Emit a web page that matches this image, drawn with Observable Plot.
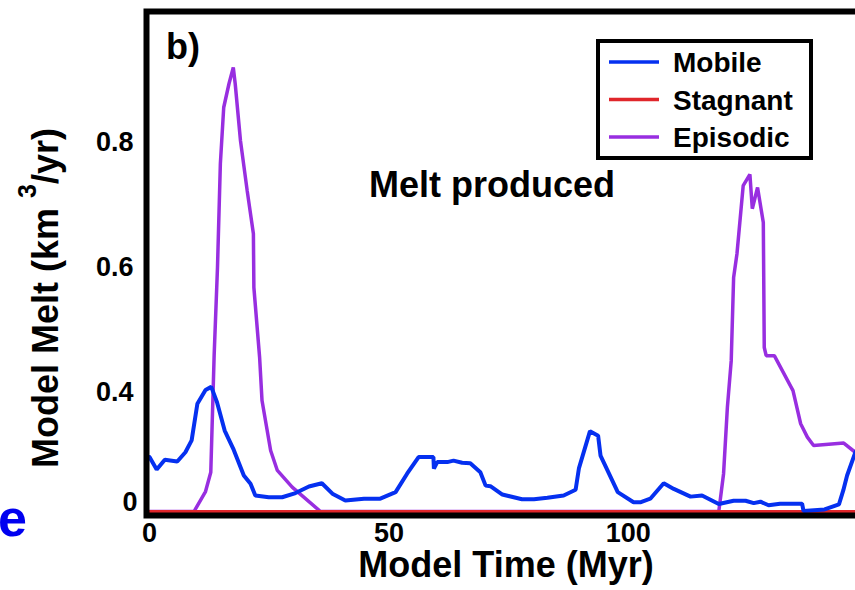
<!DOCTYPE html>
<html><head><meta charset="utf-8">
<script src="https://cdn.jsdelivr.net/npm/d3@7"></script>
<script src="https://cdn.jsdelivr.net/npm/@observablehq/plot@0.6"></script>
<style>
html,body{margin:0;padding:0;overflow:hidden;background:#fff;}
#chart{width:855px;height:590px;overflow:hidden;position:relative;}
#chart svg{max-width:none !important;display:block;}
</style></head><body><div id="chart"></div>
<script>
// ---- data ----
const seriesNames = ["Mobile", "Stagnant", "Episodic"];
const seriesColors = ["#0530f0", "#e0262b", "#982ee0"];

const mobileTime = [0, 1.5, 3.2, 5.8, 7.5, 8.8, 10.0, 11.7, 12.9, 14.1, 15.7, 17.6, 19.7, 21.1, 22.1, 24.9, 27.7, 30.5, 33.3, 36.0, 38.2, 40.9, 44.8, 48.2, 51.4, 53.8, 56.2, 59.3, 59.4, 60.1, 62.2, 63.5, 65.3, 67.0, 69.1, 70.2, 71.2, 73.7, 77.8, 80.3, 83.1, 86.5, 89.0, 89.7, 92.0, 93.7, 94.2, 97.8, 101.1, 102.5, 104.6, 107.4, 109.5, 113.0, 115.4, 118.9, 122.0, 124.5, 126.2, 127.6, 129.3, 131.7, 136.3, 136.6, 141.0, 144.0, 144.9, 145.7, 147.4, 149.0];
const mobileMelt = [0.183, 0.141, 0.174, 0.168, 0.199, 0.239, 0.362, 0.404, 0.409, 0.367, 0.272, 0.207, 0.121, 0.093, 0.054, 0.048, 0.048, 0.062, 0.084, 0.095, 0.060, 0.037, 0.043, 0.043, 0.065, 0.127, 0.183, 0.183, 0.144, 0.166, 0.166, 0.171, 0.164, 0.162, 0.132, 0.087, 0.085, 0.057, 0.041, 0.041, 0.046, 0.054, 0.073, 0.146, 0.270, 0.255, 0.188, 0.065, 0.031, 0.031, 0.043, 0.095, 0.076, 0.050, 0.054, 0.025, 0.036, 0.036, 0.028, 0.033, 0.021, 0.026, 0.026, 0.002, 0.007, 0.024, 0.071, 0.121, 0.198, 0.240];

const stagnantTime = [0, 150];
const stagnantMelt = [0, 0];

const episodicTime = [0, 9.3, 11.7, 12.8, 13.5, 14.2, 14.8, 15.5, 16.6, 17.5, 17.9, 19.0, 20.4, 21.7, 21.8, 23.0, 23.5, 25.3, 26.7, 29.8, 35.7, 118.9, 119.9, 120.7, 121.5, 122.0, 122.7, 124.0, 125.4, 125.9, 127.0, 128.2, 128.4, 128.8, 130.5, 134.4, 136.0, 137.4, 138.7, 145.0, 147.4, 149.0];
const episodicMelt = [0, 0, 0.067, 0.132, 0.459, 0.600, 0.766, 0.856, 0.894, 0.920, 0.894, 0.803, 0.723, 0.654, 0.568, 0.456, 0.373, 0.205, 0.138, 0.082, 0, 0, 0.127, 0.351, 0.451, 0.584, 0.622, 0.731, 0.749, 0.694, 0.728, 0.672, 0.472, 0.459, 0.459, 0.403, 0.295, 0.250, 0.222, 0.230, 0.199, 0.185];

const xTicks = [0, 50, 100];
const yTicks = [0.4, 0.6, 0.8];
const yZeroTick = [0];
const xLabel = "Model Time (Myr)";
const yLabelMain = "Model Melt (km ";
const yLabelSup = "3";
const yLabelTail = "/yr)";
const annotation = "Melt produced";
const panelLabel = "b)";
const strayLetter = "e";

// ---- build ----
const rows = (t, v, s) => t.map((d, i) => ({time: d, melt: v[i], series: s}));
const mobile = rows(mobileTime, mobileMelt, seriesNames[0]);
const stagnant = rows(stagnantTime, stagnantMelt, seriesNames[1]);
const episodic = rows(episodicTime, episodicMelt, seriesNames[2]);

// the original axis is compressed below 0.4 (its "0" label sits just above the frame)
const squeeze = v => (v < 0.4 ? 0.4 - (0.4 - v) * 0.476 : v);

const font = "'Liberation Sans', Arial, Helvetica, sans-serif";

const plot = Plot.plot({
  width: 875, height: 590,
  marginLeft: 146, marginRight: 15, marginTop: 11, marginBottom: 75,
  style: {fontFamily: font, fontWeight: "bold", background: "white", color: "black"},
  x: {domain: [0, 148.5], range: [149, 860]},
  y: {transform: squeeze, domain: [squeeze(0), 0.8], range: [511, 142]},
  marks: [
    Plot.line(episodic, {x: "time", y: "melt", stroke: seriesColors[2], strokeWidth: 3.5, strokeLinejoin: "miter"}),
    Plot.line(stagnant, {x: "time", y: "melt", stroke: seriesColors[1], strokeWidth: 3}),
    Plot.line(mobile, {x: "time", y: "melt", stroke: seriesColors[0], strokeWidth: 4, strokeLinejoin: "miter"}),
    Plot.frame({stroke: "black", strokeWidth: 6}),
    Plot.axisX({ticks: xTicks, tickSize: 0, tickPadding: 7, fontSize: 27, fontWeight: "bold", label: null, tickFormat: d => String(d)}),
    Plot.axisY({ticks: yTicks, tickSize: 0, tickPadding: 13, fontSize: 27, fontWeight: "bold", label: null, tickFormat: d => String(d)}),
    Plot.text(yZeroTick, {y: d => d, text: d => String(d), frameAnchor: "left", textAnchor: "end", dx: -9, dy: -9, fontSize: 27, fontWeight: "bold", fill: "black"})
  ]
});

document.getElementById("chart").appendChild(plot);
const svg = d3.select(plot);

// axis titles
svg.append("text")
  .attr("x", 506).attr("y", 577)
  .attr("text-anchor", "middle")
  .style("font-size", "36px").style("font-weight", "bold").style("font-family", font)
  .text(xLabel);

const yt = svg.append("text")
  .attr("transform", "translate(58,298) rotate(-90)")
  .attr("text-anchor", "middle")
  .style("font-size", "36px").style("font-weight", "bold").style("font-family", font);
yt.append("tspan").text(yLabelMain);
yt.append("tspan").attr("dy", -22).style("font-size", "25px").text(yLabelSup);
yt.append("tspan").attr("dy", 22).text(yLabelTail);

// annotation & panel label
svg.append("text").attr("x", 492).attr("y", 197).attr("text-anchor", "middle")
  .style("font-size", "36px").style("font-weight", "bold").style("font-family", font).text(annotation);
svg.append("text").attr("x", 166).attr("y", 59).attr("text-anchor", "start")
  .style("font-size", "36px").style("font-weight", "bold").style("font-family", font).text(panelLabel);
svg.append("text").attr("x", 27).attr("y", 536).attr("text-anchor", "end")
  .style("font-size", "52px").style("font-weight", "bold").style("font-family", font)
  .attr("fill", "#0000f0").text(strayLetter);

// legend
const lg = svg.append("g");
lg.append("rect").attr("x", 598).attr("y", 41).attr("width", 213).attr("height", 117)
  .attr("fill", "white").attr("stroke", "black").attr("stroke-width", 4);
seriesNames.forEach((name, i) => {
  const cy = 62 + i * 37.5;
  lg.append("line").attr("x1", 609).attr("x2", 659).attr("y1", cy).attr("y2", cy)
    .attr("stroke", seriesColors[i]).attr("stroke-width", 3.5);
  lg.append("text").attr("x", 673).attr("y", cy).attr("dy", "0.36em").attr("text-anchor", "start")
    .style("font-size", "28px").style("font-weight", "bold").style("font-family", font).text(name);
});
</script>
</body></html>
